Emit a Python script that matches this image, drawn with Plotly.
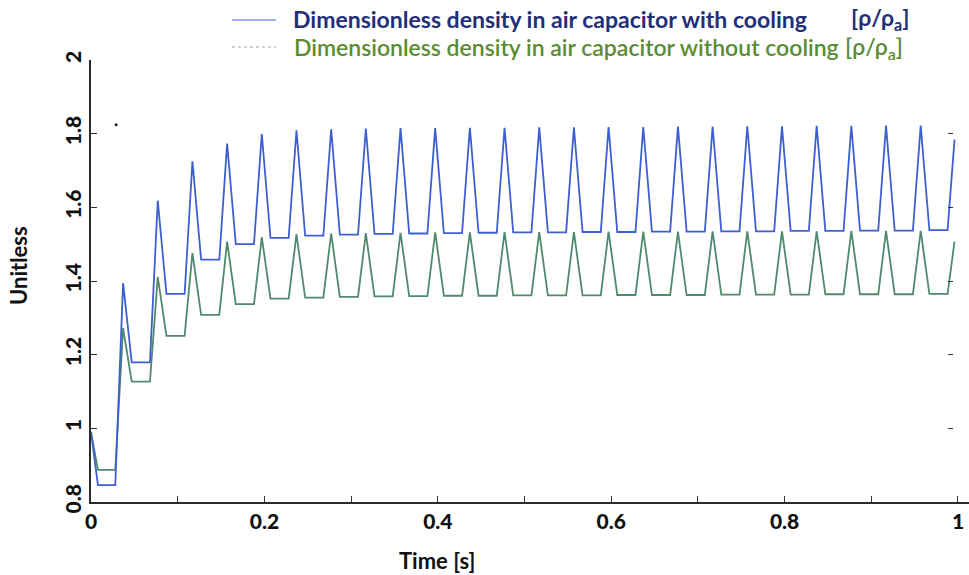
import plotly.graph_objects as go

# ---- data ----
peak_times = [0.037, 0.077, 0.117, 0.157, 0.197, 0.237, 0.277, 0.317, 0.357, 0.397,
              0.437, 0.477, 0.517, 0.557, 0.597, 0.637, 0.677, 0.717, 0.757, 0.797,
              0.837, 0.877, 0.917, 0.957]
peaks_cooling = [1.394, 1.618, 1.725, 1.773, 1.799, 1.809, 1.812, 1.814, 1.815, 1.815,
                 1.816, 1.816, 1.817, 1.817, 1.818, 1.818, 1.819, 1.819, 1.820, 1.820,
                 1.821, 1.821, 1.822, 1.822]
troughs_cooling = [0.846, 1.179, 1.365, 1.458, 1.500, 1.517, 1.523, 1.526, 1.528, 1.529,
                   1.530, 1.531, 1.532, 1.532, 1.533, 1.533, 1.534, 1.534, 1.535, 1.535,
                   1.536, 1.536, 1.537, 1.537, 1.538]
peaks_no_cooling = [1.272, 1.411, 1.476, 1.507, 1.519, 1.527, 1.529, 1.530, 1.531, 1.532,
                    1.532, 1.533, 1.533, 1.533, 1.534, 1.534, 1.534, 1.535, 1.535, 1.535,
                    1.535, 1.536, 1.536, 1.536]
troughs_no_cooling = [0.887, 1.127, 1.251, 1.308, 1.337, 1.352, 1.355, 1.357, 1.358, 1.359,
                      1.360, 1.360, 1.361, 1.361, 1.361, 1.362, 1.362, 1.362, 1.363, 1.363,
                      1.363, 1.364, 1.364, 1.364, 1.365]
start_time, start_value = 0.0, 0.99
first_trough_time = 0.008
end_time = 0.996
end_cooling, end_no_cooling = 1.784, 1.507
rise_time, fall_time = 0.009, 0.010
stray_t, stray_v = [0.029], [1.824]

x_ticks = [0, 0.2, 0.4, 0.6, 0.8, 1]
x_tick_text = ["0", "0.2", "0.4", "0.6", "0.8", "1"]
y_ticks = [0.8, 1, 1.2, 1.4, 1.6, 1.8, 2]
y_tick_text = ["0.8", "1", "1.2", "1.4", "1.6", "1.8", "2"]
right_ticks = [1, 1.2, 1.4, 1.6, 1.8]


def build(peaks, troughs, end_val):
    t = [start_time]
    v = [start_value]
    for j, tr in enumerate(troughs):
        ts = first_trough_time if j == 0 else peak_times[j - 1] + fall_time
        te = peak_times[j] - rise_time if j < len(peak_times) else end_time - rise_time + 0.001
        t += [ts, te]
        v += [tr, tr]
        if j < len(peaks):
            t.append(peak_times[j])
            v.append(peaks[j])
    t.append(end_time)
    v.append(end_val)
    return t, v


tc, vc = build(peaks_cooling, troughs_cooling, end_cooling)
tn, vn = build(peaks_no_cooling, troughs_no_cooling, end_no_cooling)

BLUE = "#3d5fd2"
GREEN = "#4f8a6e"
FONT = "Lato"
TXT = "#111"

W, H = 969, 575
L, R, T, B = 91, 0, 60, 73
PW = W - L - R
PH = H - T - B


def xp(px):
    return (px - L) / PW


def yp(py):
    return 1 - (py - T) / PH


fig = go.Figure()
fig.add_trace(go.Scatter(x=tn, y=vn, mode="lines",
                         line=dict(color=GREEN, width=1.8), showlegend=False))
fig.add_trace(go.Scatter(x=tc, y=vc, mode="lines",
                         line=dict(color=BLUE, width=1.8), showlegend=False))
fig.add_trace(go.Scatter(x=stray_t, y=stray_v, mode="markers",
                         marker=dict(color="#222", size=3), showlegend=False))
fig.add_trace(go.Scatter(x=[None], y=[None], yaxis="y2", showlegend=False))

tickfont = dict(size=21, family=FONT, weight=900, color=TXT)

fig.update_layout(
    width=W, height=H,
    margin=dict(l=L, r=R, t=T, b=B, autoexpand=False),
    paper_bgcolor="white", plot_bgcolor="white",
    font=dict(family=FONT, color=TXT),
    xaxis=dict(range=[0, 1.0127], tickvals=x_ticks, ticktext=x_tick_text,
               automargin=False,
               showgrid=False, zeroline=False, showline=True,
               linecolor="#2a2a2a", linewidth=2,
               ticks="inside", ticklen=6, tickcolor="#333", tickwidth=1,
               minor=dict(tickvals=[0.1, 0.2, 0.3, 0.4, 0.5, 0.6, 0.7, 0.8, 0.9],
                          ticks="inside", ticklen=6, tickcolor="#333",
                          showgrid=False),
               tickfont=tickfont),
    yaxis=dict(range=[0.8, 2], tickvals=y_ticks, ticktext=y_tick_text,
               automargin=False,
               showgrid=False, zeroline=False, showline=True,
               linecolor="#2a2a2a", linewidth=2,
               ticks="inside", ticklen=6, tickcolor="#333", tickwidth=1,
               tickangle=-90, tickfont=tickfont),
    yaxis2=dict(range=[0.8, 2], overlaying="y", side="right", anchor="free",
                position=xp(953), automargin=False,
                showline=False, showgrid=False, zeroline=False,
                tickvals=right_ticks, showticklabels=False,
                ticks="inside", ticklen=5, tickcolor="#333", tickwidth=1),
)

# axis titles
fig.add_annotation(xref="paper", yref="paper", x=xp(437), y=yp(560),
                   xanchor="center", yanchor="middle", showarrow=False,
                   text="<b>Time [s]</b>", font=dict(size=22, family=FONT, color=TXT))
fig.add_annotation(xref="paper", yref="paper", x=xp(18), y=yp(266),
                   xanchor="center", yanchor="middle", showarrow=False, textangle=-90,
                   text="<b>Unitless</b>", font=dict(size=22, family=FONT, color=TXT))

# legend drawn at the top
fig.add_shape(type="line", xref="paper", yref="paper", x0=xp(232), x1=xp(276),
              y0=yp(20), y1=yp(20), line=dict(color=BLUE, width=1))
fig.add_shape(type="line", xref="paper", yref="paper", x0=xp(232), x1=xp(276),
              y0=yp(47), y1=yp(47), line=dict(color="#8fb09c", width=1, dash="dot"))
fig.add_annotation(xref="paper", yref="paper", x=xp(291), y=yp(19), xanchor="left",
                   yanchor="middle", showarrow=False,
                   text="<b>Dimensionless density in air capacitor with cooling</b>",
                   font=dict(size=23, family=FONT, color="#1f2f78"))
fig.add_annotation(xref="paper", yref="paper", x=xp(849), y=yp(19), xanchor="left",
                   yanchor="middle", showarrow=False,
                   text="<b>[ρ/ρ<sub>a</sub>]</b>",
                   font=dict(size=23, family=FONT, color="#1f2f78"))
fig.add_annotation(xref="paper", yref="paper", x=xp(292), y=yp(47), xanchor="left",
                   yanchor="middle", showarrow=False,
                   text="Dimensionless density in air capacitor without cooling",
                   font=dict(size=23, family=FONT, color="#5a8c34", weight=600))
fig.add_annotation(xref="paper", yref="paper", x=xp(843), y=yp(47), xanchor="left",
                   yanchor="middle", showarrow=False,
                   text="[ρ/ρ<sub>a</sub>]",
                   font=dict(size=23, family=FONT, color="#5a8c34", weight=600))

fig.write_html("out.html")
